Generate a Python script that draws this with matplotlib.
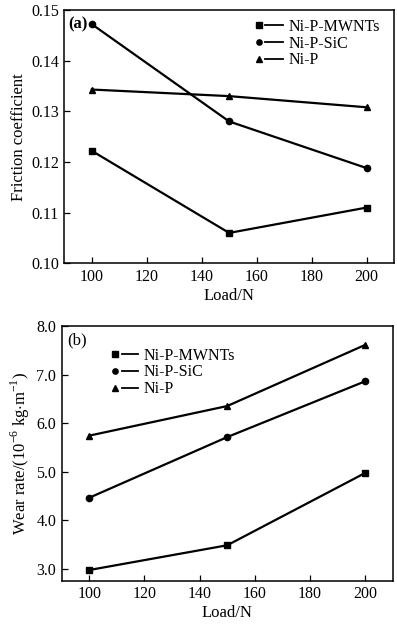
import matplotlib
matplotlib.use("Agg")
import matplotlib.pyplot as plt
from matplotlib.lines import Line2D
from matplotlib.legend_handler import HandlerBase

plt.rcParams['font.family'] = ['Liberation Serif', 'DejaVu Serif']
plt.rcParams['mathtext.fontset'] = 'custom'
plt.rcParams['mathtext.rm'] = 'Liberation Serif'

load = [100, 150, 200]
names = ['Ni-P-MWNTs', 'Ni-P-SiC', 'Ni-P']
marks = ['s', 'o', '^']

# friction coefficient (a)
fric_mwnt = [0.1222, 0.1060, 0.1110]
fric_sic = [0.1472, 0.1280, 0.1188]
fric_nip = [0.1343, 0.1330, 0.1308]

# wear rate, 10^-6 kg/m (b)
wear_mwnt = [2.97, 3.48, 4.97]
wear_sic = [4.46, 5.71, 6.86]
wear_nip = [5.74, 6.35, 7.61]


class MarkerDash(HandlerBase):
    # marker first, then a short dash, as in the printed figure
    def __init__(self, mpos, lstart):
        super().__init__()
        self.mpos = mpos
        self.lstart = lstart

    def create_artists(self, legend, orig, xdescent, ydescent, width, height, fontsize, trans):
        y = (height - ydescent) / 2
        x0 = -xdescent
        m = Line2D([x0 + self.mpos * width], [y], marker=orig.get_marker(),
                   markersize=3.8, color='k', linestyle='none')
        l = Line2D([x0 + self.lstart * width, x0 + width], [y, y], color='k', lw=1.3)
        m.set_transform(trans)
        l.set_transform(trans)
        return [m, l]


fig = plt.figure(figsize=(3.97, 6.25), dpi=100)
ax1 = fig.add_axes([0.162, 0.5787, 0.8305, 0.4053])
ax2 = fig.add_axes([0.1554, 0.0709, 0.8338, 0.4075])

handles1 = []
for ys, mk, nm in zip([fric_mwnt, fric_sic, fric_nip], marks, names):
    h, = ax1.plot(load, ys, color='k', lw=1.6, marker=mk, markersize=4.5, label=nm)
    handles1.append(h)
handles2 = []
for ys, mk, nm in zip([wear_mwnt, wear_sic, wear_nip], marks, names):
    h, = ax2.plot(load, ys, color='k', lw=1.6, marker=mk, markersize=4.5, label=nm)
    handles2.append(h)

ax1.set_xlim(90, 210)
ax1.set_ylim(0.10, 0.15)
ax1.set_yticks([0.10, 0.11, 0.12, 0.13, 0.14, 0.15])
ax1.set_yticklabels(['0.10', '0.11', '0.12', '0.13', '0.14', '0.15'])
ax2.set_xlim(90, 210)
ax2.set_ylim(2.75, 8.0)
ax2.set_yticks([3, 4, 5, 6, 7, 8])
ax2.set_yticklabels(['3.0', '4.0', '5.0', '6.0', '7.0', '8.0'])

for ax in (ax1, ax2):
    ax.set_xticks([100, 120, 140, 160, 180, 200])
    ax.tick_params(direction='in', length=4, width=0.9, labelsize=11.5, top=False, right=False)
    ax.tick_params(axis='y', pad=4)
    ax.tick_params(axis='x', pad=4)
    for s in ax.spines.values():
        s.set_linewidth(1.1)
    ax.set_xlabel('Load/N', fontsize=12, labelpad=2)

ax1.set_ylabel('Friction coefficient', fontsize=12, labelpad=3)
ax2.set_ylabel(r'Wear rate/(10$^{-6}$ kg$\cdot$m$^{-1}$)', fontsize=12, labelpad=3)

ax1.text(0.012, 0.975, '(a)', transform=ax1.transAxes, fontsize=12, fontweight='bold', va='top')
ax2.text(0.018, 0.975, '(b)', transform=ax2.transAxes, fontsize=12, va='top')

ax1.legend(handles1, names, loc='upper left', bbox_to_anchor=(0.58, 0.965), frameon=False,
           fontsize=11.5, handlelength=1.7, handletextpad=0.4, labelspacing=0.05,
           borderpad=0, borderaxespad=0,
           handler_map={h: MarkerDash(0.13, 0.36) for h in handles1})
ax2.legend(handles2, names, loc='upper left', bbox_to_anchor=(0.152, 0.915), frameon=False,
           fontsize=11.5, handlelength=1.6, handletextpad=0.4, labelspacing=0.05,
           borderpad=0, borderaxespad=0,
           handler_map={h: MarkerDash(0.12, 0.4) for h in handles2})

fig.savefig('out.png', dpi=100)
